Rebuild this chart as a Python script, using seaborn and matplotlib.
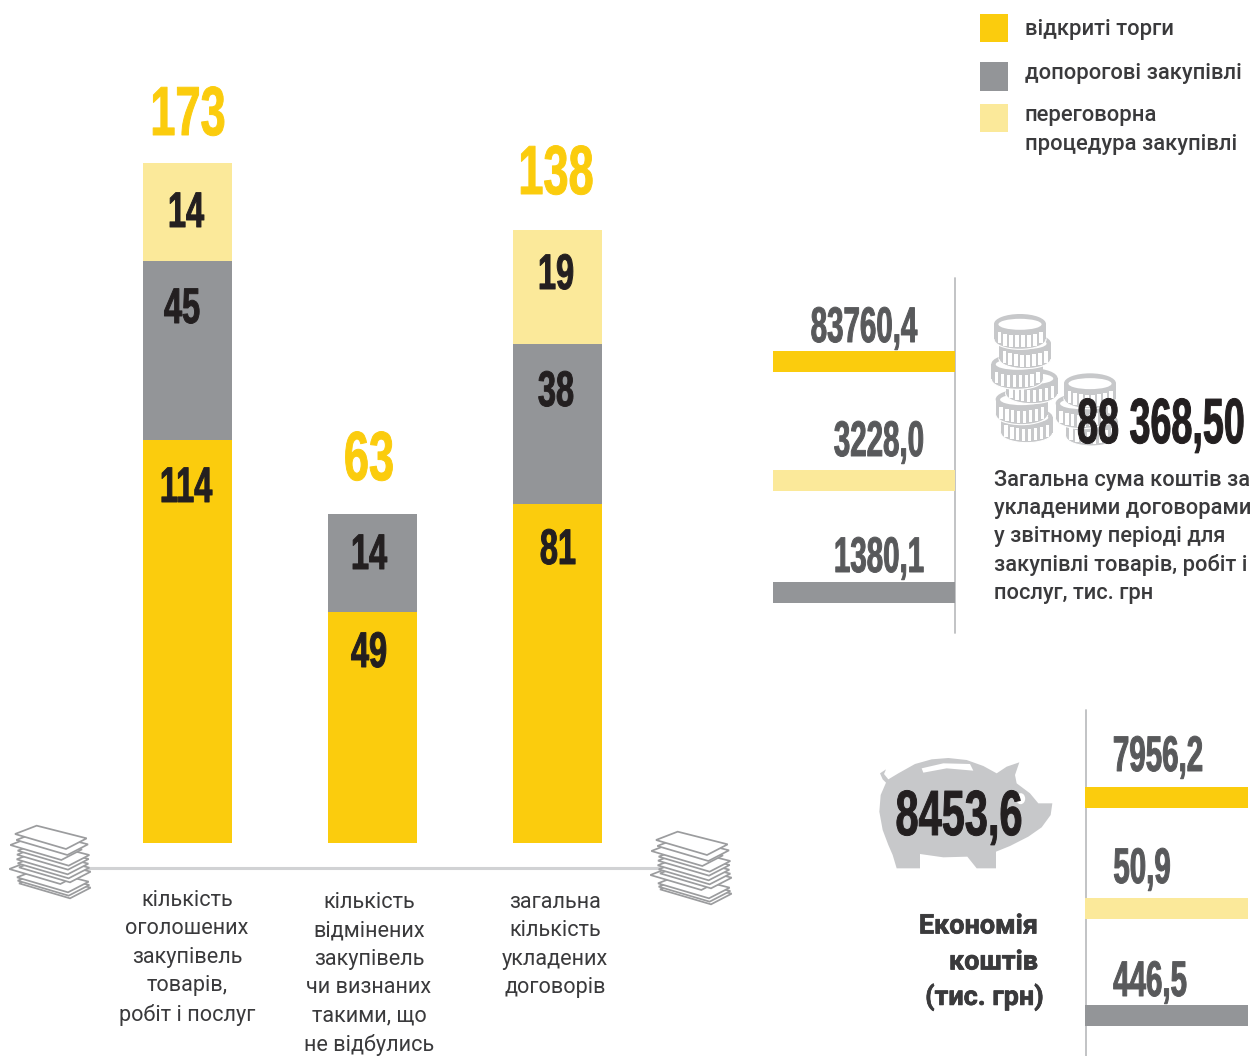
import matplotlib
matplotlib.use("Agg")
import matplotlib.pyplot as plt
from matplotlib.patches import Polygon, Ellipse, Rectangle
from matplotlib.patheffects import AbstractPathEffect, withStroke
from matplotlib.transforms import Affine2D, Bbox
import numpy as np
import seaborn as sns

# ---- data ----
categories = ["оголошені", "відмінені", "договори"]
open_labels = [114, 49, 81]
below_labels = [45, 14, 38]
nego_labels = [14, 0, 19]
total_labels = [173, 63, 138]
# segment heights as drawn in the picture (not proportional to the printed numbers)
open_drawn = [403, 231, 339]
below_drawn = [179, 98, 160]
nego_drawn = [98, 0, 114]
cat_text = ["кількість\nоголошених\nзакупівель\nтоварів,\nробіт і послуг",
            "кількість\nвідмінених\nзакупівель\nчи визнаних\nтакими, що\nне відбулись",
            "загальна\nкількість\nукладених\nдоговорів"]
sum_labels = ["83760,4", "3228,0", "1380,1"]
save_labels = ["7956,2", "50,9", "446,5"]
row_drawn = [1, 1, 1]
legend_labels = ["відкриті торги", "допорогові закупівлі", "переговорна\nпроцедура закупівлі"]

YEL, GRY, LYL = "#FBCC0D", "#939598", "#FBE99A"
DARK, TXT, ICON = "#231F20", "#3A3A3C", "#C7C8CA"

sns.set_theme(style="white")
plt.rcParams["font.family"] = ["Roboto", "DejaVu Sans"]
NUMFONT = ["Liberation Sans", "DejaVu Sans"]

W, H = 1257, 1056
fig = plt.figure(figsize=(W / 100, H / 100), dpi=100, facecolor="white")

def px_axes(x0, y0, x1, y1):
    a = fig.add_axes([x0 / W, 1 - y1 / H, (x1 - x0) / W, (y1 - y0) / H])
    a.set_axis_off()
    return a

ov = px_axes(0, 0, W, H)
ov.set_xlim(0, W)
ov.set_ylim(H, 0)
ov.set_zorder(5)
under = px_axes(0, 0, W, H)
under.set_xlim(0, W)
under.set_ylim(H, 0)
under.set_zorder(0)

# ---- main stacked bars ----
ax = px_axes(95, 100, 650, 843)
ax.set_zorder(2)
o = np.array(open_drawn)
b = np.array(below_drawn)
n = np.array(nego_drawn)
for vals, col in [(o + b + n, LYL), (o + b, GRY), (o, YEL)]:
    sns.barplot(x=categories, y=vals, color=col, saturation=1, width=0.481, ax=ax, linewidth=0)
ax.set_xlim(-0.5, 2.5)
ax.set_ylim(0, 743)
ax.set_axis_off()

# ---- horizontal rows ----
def row(x0, x1, yc, value, color, invert):
    a = px_axes(x0, yc - 10.5, x1, yc + 10.5)
    a.set_zorder(2)
    sns.barplot(x=[value], y=[""], color=color, saturation=1, width=1, ax=a, orient="h", linewidth=0)
    a.set_xlim(1, 0) if invert else a.set_xlim(0, 1)
    a.set_ylim(0.5, -0.5)
    a.set_axis_off()

for yc, v, c in zip([361, 480, 592], row_drawn, [YEL, LYL, GRY]):
    row(773, 955, yc, v, c, True)
for yc, v, c in zip([797, 908, 1015], row_drawn, [YEL, LYL, GRY]):
    row(1085, 1248, yc, v, c, False)

under.plot([955, 955], [278, 633], color="#BDBEC0", lw=1.3)
under.plot([1086, 1086], [710, 1056], color="#BDBEC0", lw=1.3)
under.plot([85, 660], [868, 868], color="#D1D2D4", lw=2.2)

# ---- paper stacks ----
sheet = np.array([(45, 72), (110, 47), (260, 85), (198, 117)], float)
offs = [(12, 148), (8, 140), (6, 130), (-17, 105), (12, 100), (8, 88), (5, 76), (6, 62), (8, 50),
        (-14, 33), (4, 18), (0, 0)]
def stack(dx, dy):
    for ox, oy in offs:
        pts = (sheet + (ox, oy)) / 3 + (dx, 810 + dy)
        under.add_patch(Polygon(pts, closed=True, fc="white", ec="#9B9C9E", lw=1.25, zorder=3))
stack(0, 0)
stack(641, 6)

# ---- coins ----
def coin(target, zx, zy, rx=78, ry=30, h=46):
    cx, cy = 980 + zx / 3, 300 + zy / 3
    rx, ry, h = rx / 3, ry / 3, h / 3
    target.add_patch(Ellipse((cx, cy + h), 2 * rx, 2 * ry, fc=ICON, ec="white", lw=0.8, zorder=2))
    target.add_patch(Rectangle((cx - rx, cy), 2 * rx, h, fc=ICON, ec="none", zorder=2))
    target.add_patch(Ellipse((cx, cy), 2 * rx, 2 * ry, fc=ICON, ec="none", zorder=2))
    target.add_patch(Ellipse((cx, cy + 0.3), 1.66 * rx, 1.1 * ry, fc="white", ec="none", zorder=2))
    for f in np.linspace(-0.8, 0.8, 8):
        x = cx + f * rx
        curve = ry * np.sqrt(1 - f ** 2)
        target.add_patch(Rectangle((x - 1.7, cy + curve + 1.5), 3.4, h - 3.5, fc="white", ec="none", zorder=2))

for c in [(335, 362), (305, 310), (330, 250), (140, 352), (125, 298), (155, 235), (112, 192), (135, 130), (120, 72)]:
    coin(under, *c)

# ---- pig ----
pig = np.array([(110, 385), (98, 345), (85, 315), (68, 270), (58, 215), (62, 165), (78, 128), (68, 118), (60, 100),
                (78, 88), (72, 102), (85, 118), (115, 100), (165, 72), (215, 58), (265, 54), (320, 60), (370, 78),
                (410, 100), (440, 80), (478, 67), (465, 105), (470, 130), (510, 160), (535, 190), (577, 190),
                (572, 225), (545, 262), (505, 290), (450, 318), (408, 335), (408, 385), (350, 385), (322, 350),
                (250, 352), (180, 342), (180, 385)], float) / 3 + (860, 740)
under.add_patch(Polygon(pig, closed=True, fc=ICON, ec="none", zorder=2))
slot = np.array([(185, 85), (250, 70), (330, 72), (340, 92), (260, 85), (190, 98)], float) / 3 + (860, 740)
under.add_patch(Polygon(slot, closed=True, fc="white", ec="none", zorder=3))
under.add_patch(Ellipse((860 + 482 / 3, 740 + 176 / 3), 9, 11, fc="white", ec="none", zorder=3))

# ---- legend ----
for y0, y1, c in [(14, 42, YEL), (62, 91, GRY), (104, 132, LYL)]:
    under.add_patch(Rectangle((980, y0), 28, y1 - y0, fc=c, ec="none"))

def lab(x, y, s, size, color=TXT, ha="center", weight="normal", ls=1.0, va="center"):
    return ov.text(x, y, s, fontsize=size * 0.72, color=color, ha=ha, va=va, fontweight=weight,
                   family=["Roboto", "DejaVu Sans"], linespacing=ls)

lab(1025, 30, legend_labels[0], 22, ha="left", weight="medium")
lab(1025, 74, legend_labels[1], 22, ha="left", weight="medium")
lab(1025, 130, legend_labels[2], 22, ha="left", weight="medium", ls=1.48)

# condensed numerals: real text, reshaped at draw time
class Squeeze(AbstractPathEffect):
    def __init__(self, sx, sy, cx, by, bold):
        super().__init__()
        self.sx, self.sy, self.cx, self.by, self.bold = sx, sy, cx, by, bold
    def draw_path(self, renderer, gc, tpath, affine, rgbFace=None):
        t = affine + Affine2D().translate(-self.cx, -self.by).scale(self.sx, self.sy).translate(self.cx, self.by)
        g = renderer.new_gc()
        g.copy_properties(gc)
        g.set_linewidth(self.bold)
        g.set_foreground(rgbFace)
        renderer.draw_path(g, tpath, t, rgbFace)
        g.restore()

def num(x, base, s, digit_h, sx, color=DARK, em_scale=1.0):
    em = digit_h / 0.72 * em_scale
    t = ov.text(x, base, s, fontsize=em * 0.72, color=color, ha="center", va="baseline",
                fontweight="bold", family=NUMFONT)
    cx, by = ov.transData.transform((x, base))
    t.set_path_effects([Squeeze(sx / em_scale, 1 / em_scale, cx, by, 0.7)])
    return t

for x, y, v in zip([188, 369, 556], [135, 480, 194], total_labels):
    num(x, y, str(v), 50, 0.65, YEL)
for x, y, v in zip([186, 369, 558], [502, 667, 564], open_labels):
    num(x, y, str(v), 36, 0.65)
for x, y, v in zip([182, 369, 556], [323, 569, 406], below_labels):
    num(x, y, str(v), 36, 0.65)
for x, y, v in zip([186, 369, 556], [227, 0, 289], nego_labels):
    if v:
        num(x, y, str(v), 36, 0.65)

for x, y, s in zip([864, 879, 879], [342, 456, 572], sum_labels):
    num(x, y, s, 36, 0.59, "#58595B")
for x, y, s in zip([1158, 1142, 1150], [771, 883, 996], save_labels):
    num(x, y, s, 36, 0.59, "#58595B")
num(1161, 443, "88 368,50", 46, 0.59, em_scale=0.65)
num(959, 835, "8453,6", 46, 0.65)

# category text
for x, y, s in zip([187, 369, 555], [890, 892, 892], cat_text):
    lab(x, y, s, 21.7, va="top", ls=1.46)

para = "Загальна сума коштів за\nукладеними договорами\nу звітному періоді для\nзакупівлі товарів, робіт і\nпослуг, тис. грн"
lab(994, 537, para, 21.9, ha="left", weight="medium", ls=1.43)
for y, s, xr in [(926, "Економія", 1038), (962, "коштів", 1038), (997, "(тис. грн)", 1044)]:
    t = lab(xr, y, s, 27, ha="right", weight="bold")
    t.set_path_effects([withStroke(linewidth=0.5, foreground=TXT)])

fig.savefig("out.png", dpi=100, facecolor="white")
